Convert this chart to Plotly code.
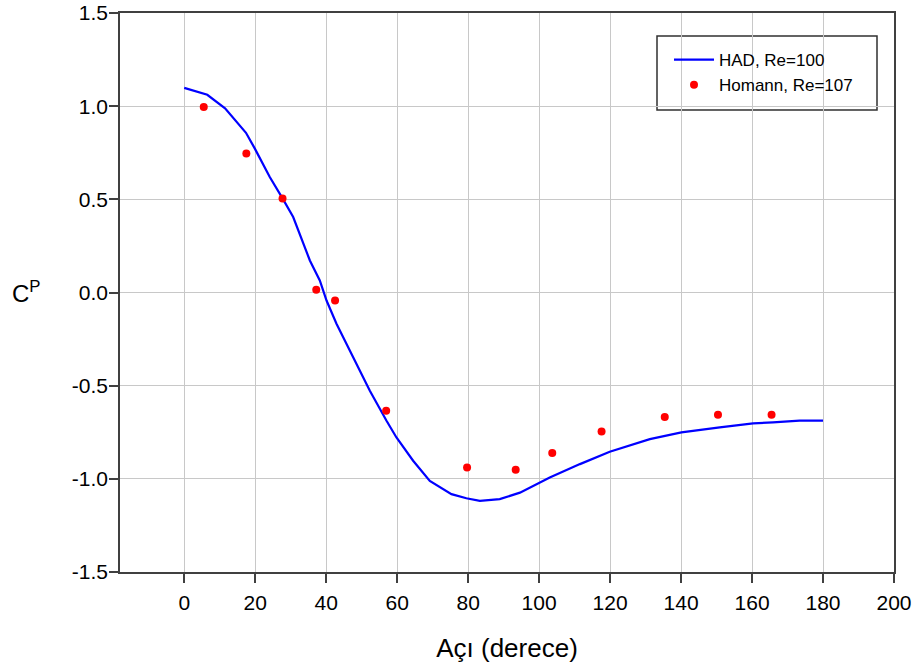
import plotly.graph_objects as go

# HAD, Re=100 (line)
had_x = [0, 6.5, 11.5, 17.4, 19.9, 24.1, 27.7, 30.7, 35.4, 38.2, 40.1, 42.9, 47.6,
         52.3, 57.0, 59.8, 64.5, 69.2, 75.3, 79.5, 83.3, 88.9, 94.6, 100.2, 103,
         111.5, 119.9, 131.2, 140.1, 150.9, 160.3, 165.9, 173.4, 180]
had_y = [1.098, 1.061, 0.988, 0.857, 0.772, 0.62, 0.505, 0.405, 0.172, 0.065, -0.043,
         -0.168, -0.348, -0.527, -0.688, -0.778, -0.903, -1.011, -1.082, -1.104, -1.118,
         -1.109, -1.074, -1.02, -0.993, -0.921, -0.855, -0.787, -0.751, -0.724, -0.702,
         -0.697, -0.688, -0.688]

# Homann, Re=107 (points)
hom_x = [5.5, 17.5, 27.7, 37.2, 42.5, 56.9, 79.7, 93.4, 103.7, 117.6, 135.4, 150.4, 165.5]
hom_y = [0.995, 0.746, 0.505, 0.015, -0.043, -0.634, -0.939, -0.951, -0.862, -0.746,
         -0.668, -0.656, -0.656]

x_ticks = [0, 20, 40, 60, 80, 100, 120, 140, 160, 180, 200]
y_ticks = [-1.5, -1.0, -0.5, 0.0, 0.5, 1.0, 1.5]
y_ticktext = ["-1.5", "-1.0", "-0.5", "0.0", "0.5", "1.0", "1.5"]

FONT = "Liberation Sans, Arial, sans-serif"

# plot area target in page px: x 120..894, y 13..572
W, H = 918, 670
PL, PR, PT, PB = 120, 894, 13, 572
PW, PH = PR - PL, PB - PT


def px(xp):
    return (xp - PL) / PW


def py(yp):
    return 1 - (yp - PT) / PH


fig = go.Figure()
fig.add_trace(go.Scatter(x=had_x, y=had_y, mode="lines", name="HAD, Re=100",
                         line=dict(color="#0000ff", width=2.2)))
fig.add_trace(go.Scatter(x=hom_x, y=hom_y, mode="markers", name="Homann, Re=107",
                         marker=dict(color="#ff0000", size=8)))

axis_common = dict(showline=True, linecolor="#404040", linewidth=1.5, mirror=True,
                   showgrid=True, gridcolor="#c8c8c8", gridwidth=1,
                   ticks="outside", ticklen=9, tickcolor="#404040", tickwidth=1.5,
                   zeroline=False, automargin=False, ticklabeloverflow="allow",
                   tickfont=dict(family=FONT, size=21, color="black"))

fig.update_layout(
    width=W, height=H,
    margin=dict(l=PL, r=W - PR, t=PT, b=H - PB),
    paper_bgcolor="white", plot_bgcolor="white",
    font=dict(family=FONT, color="black"),
    xaxis=dict(range=[-18.1, 200], tickvals=x_ticks, ticklabelstandoff=2, **axis_common,
               title=dict(text="Açı (derece)", font=dict(family=FONT, size=26), standoff=26)),
    yaxis=dict(range=[-1.5, 1.5], tickvals=y_ticks, ticktext=y_ticktext,
               ticklabelstandoff=-3, **axis_common),
    legend=dict(x=px(669), y=py(42), xanchor="left", yanchor="top",
                bgcolor="rgba(0,0,0,0)", borderwidth=0, itemwidth=40,
                font=dict(family=FONT, size=17, color="black")),
    showlegend=True,
)

# legend frame
fig.add_shape(type="rect", xref="paper", yref="paper",
              x0=px(657), x1=px(877), y0=py(110), y1=py(36),
              line=dict(color="#303030", width=1.5), fillcolor="white", layer="below")

fig.add_annotation(text="C<sup>P</sup>", xref="paper", yref="paper",
                   x=px(10), y=py(292), xanchor="left", yanchor="middle",
                   showarrow=False, font=dict(family=FONT, size=24, color="black"))

fig.write_html("out.html", config={"displayModeBar": False},
               post_script="document.body.style.margin='0px';")
